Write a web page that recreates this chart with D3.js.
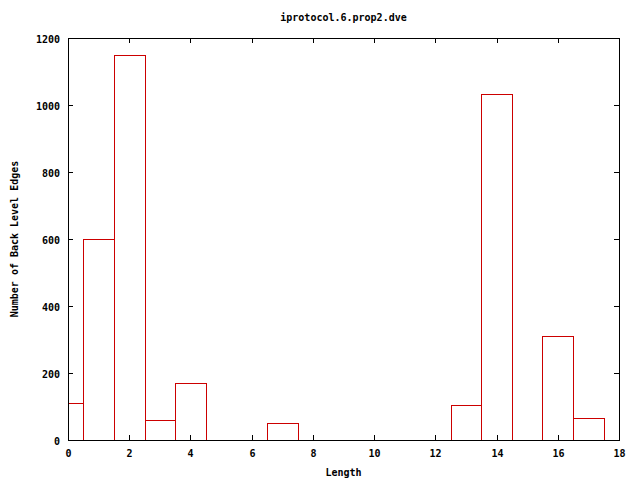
<!DOCTYPE html>
<html><head><meta charset="utf-8">
<script src="https://cdn.jsdelivr.net/npm/d3@7"></script>
<style>body{margin:0;background:#fff}text{font-family:"DejaVu Sans Mono",monospace;font-weight:bold;font-size:10px;fill:#000}</style>
</head><body>
<svg id="c" width="640" height="480"></svg>
<script>
const lengths = [0,1,2,3,4,7,13,14,16,17];
const counts = [110,600,1150,60,170,50,105,1032,310,65];
const xTicks = [0,2,4,6,8,10,12,14,16,18];
const yTicks = [0,200,400,600,800,1000,1200];
const title = "iprotocol.6.prop2.dve";
const xLabel = "Length";
const yLabel = "Number of Back Level Edges";

const m = {l:68, r:619, t:38, b:440};
const svg = d3.select("#c");
const x = d3.scaleLinear().domain([0,18]).range([m.l,m.r]);
const y = d3.scaleLinear().domain([0,1200]).range([m.b,m.t]);

svg.append("defs").append("clipPath").attr("id","clip")
  .append("rect").attr("x",m.l).attr("y",m.t).attr("width",m.r-m.l).attr("height",m.b-m.t);

const g = svg.append("g").attr("clip-path","url(#clip)");
g.selectAll("rect.bar").data(lengths.map((d,i)=>({x:d,v:counts[i]}))).join("rect")
  .attr("x",d=>Math.round(x(d.x-0.5))+0.5).attr("width",d=>Math.round(x(d.x+0.5))-Math.round(x(d.x-0.5)))
  .attr("y",d=>Math.round(y(d.v))+0.5).attr("height",d=>m.b-Math.round(y(d.v)))
  .attr("fill","none").attr("stroke","#cc0000").attr("stroke-width",1);

const tl = 5;
const axes = svg.append("g").attr("stroke","#000").attr("stroke-width",1);
xTicks.forEach(t=>{
  const px = Math.round(x(t))+0.5;
  axes.append("line").attr("x1",px).attr("x2",px).attr("y1",m.b).attr("y2",m.b-tl);
  axes.append("line").attr("x1",px).attr("x2",px).attr("y1",m.t).attr("y2",m.t+tl);
  svg.append("text").attr("x",px).attr("y",m.b+17).attr("text-anchor","middle").text(t);
});
yTicks.forEach(t=>{
  const py = Math.round(y(t))+0.5;
  axes.append("line").attr("x1",m.l).attr("x2",m.l+tl).attr("y1",py).attr("y2",py);
  axes.append("line").attr("x1",m.r).attr("x2",m.r-tl).attr("y1",py).attr("y2",py);
  svg.append("text").attr("x",m.l-8).attr("y",py+4).attr("text-anchor","end").text(t);
});
axes.append("rect").attr("x",m.l+0.5).attr("y",m.t+0.5).attr("width",m.r-m.l).attr("height",m.b-m.t).attr("fill","none");

svg.append("text").attr("x",(m.l+m.r)/2).attr("y",21).attr("text-anchor","middle").text(title);
svg.append("text").attr("x",(m.l+m.r)/2).attr("y",476).attr("text-anchor","middle").text(xLabel);
svg.append("text").attr("transform","translate(18,"+((m.t+m.b)/2)+") rotate(-90)").attr("text-anchor","middle").text(yLabel);
</script>
</body></html>
